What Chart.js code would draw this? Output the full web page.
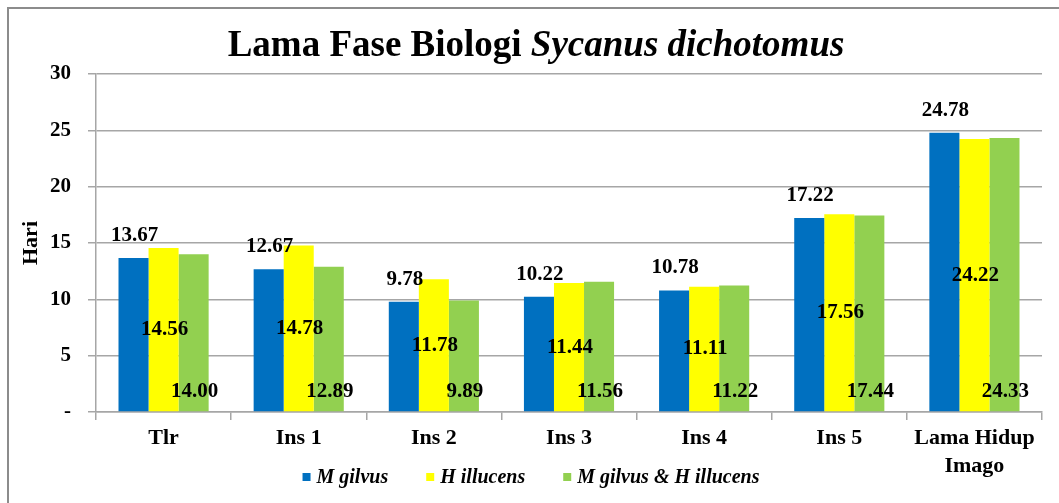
<!DOCTYPE html>
<html>
<head>
<meta charset="utf-8">
<script src="https://cdn.jsdelivr.net/npm/chart.js@4.4.1/dist/chart.umd.min.js"></script>
<style>
  html, body { margin: 0; padding: 0; background: #ffffff; }
  #wrap { width: 1059px; height: 503px; }
</style>
</head>
<body>
<div id="wrap"><canvas id="c" width="1059" height="503"></canvas></div>
<script>
const categories = ['Tlr', 'Ins 1', 'Ins 2', 'Ins 3', 'Ins 4', 'Ins 5', ['Lama Hidup', 'Imago']];
const seriesNames = ['M gilvus', 'H illucens', 'M gilvus & H illucens'];
const mGilvus   = [13.67, 12.67, 9.78, 10.22, 10.78, 17.22, 24.78];
const hIllucens = [14.56, 14.78, 11.78, 11.44, 11.11, 17.56, 24.22];
const combined  = [14.00, 12.89, 9.89, 11.56, 11.22, 17.44, 24.33];
const yTicks = [0, 5, 10, 15, 20, 25, 30];
const titleMain = 'Lama Fase Biologi ';
const titleItalic = 'Sycanus dichotomus';
const yTitle = 'Hari';

const SERIF = "'Liberation Serif', 'Times New Roman', serif";
const colors = ['#0070C0', '#FFFF00', '#92D050'];
const gridColor = '#a6a6a6';

const framePlugin = {
  id: 'frame',
  beforeDraw(chart) {
    const ctx = chart.ctx;
    ctx.save();
    ctx.fillStyle = '#ffffff';
    ctx.fillRect(0, 0, chart.width, chart.height);
    ctx.strokeStyle = '#8c8c8c';
    ctx.lineWidth = 2;
    ctx.strokeRect(8, 8, chart.width + 40, chart.height + 40);
    ctx.restore();
  },
  afterDraw(chart) {
    const ctx = chart.ctx;
    ctx.save();
    ctx.fillStyle = '#000000';
    ctx.textBaseline = 'alphabetic';
    ctx.textAlign = 'left';
    // title
    const f1 = 'bold 37px ' + SERIF;
    const f2 = 'italic bold 37px ' + SERIF;
    ctx.font = f1;
    const w1 = ctx.measureText(titleMain).width;
    ctx.font = f2;
    const w2 = ctx.measureText(titleItalic).width;
    const x0 = 536 - (w1 + w2) / 2;
    ctx.font = f1;
    ctx.fillText(titleMain, x0, 56);
    ctx.font = f2;
    ctx.fillText(titleItalic, x0 + w1, 56);
    // legend
    const lf = 'italic bold 20px ' + SERIF;
    ctx.font = lf;
    const box = 8, gapText = 6, gapItem = 38;
    const items = chart.data.datasets.map(ds => ({ text: ds.label, color: ds.backgroundColor, w: ctx.measureText(ds.label).width }));
    let total = 0;
    items.forEach((it, i) => { total += box + gapText + it.w + (i < items.length - 1 ? gapItem : 0); });
    let x = 531 - total / 2;
    const cy = 477;
    ctx.textBaseline = 'middle';
    items.forEach(it => {
      ctx.fillStyle = it.color;
      ctx.fillRect(x, cy - box / 2, box, box);
      ctx.fillStyle = '#000000';
      ctx.fillText(it.text, x + box + gapText, cy + 1);
      x += box + gapText + it.w + gapItem;
    });
    ctx.restore();
  }
};

const labelPlugin = {
  id: 'barLabels',
  afterDatasetsDraw(chart) {
    const ctx = chart.ctx;
    ctx.save();
    ctx.font = 'bold 21px ' + SERIF;
    ctx.fillStyle = '#000000';
    ctx.textAlign = 'center';
    chart.data.datasets.forEach((ds, i) => {
      const meta = chart.getDatasetMeta(i);
      meta.data.forEach((bar, j) => {
        const txt = ds.data[j].toFixed(2);
        let y;
        if (i === 0) {
          ctx.textBaseline = 'bottom';
          y = bar.y - 12;
        } else if (i === 1) {
          ctx.textBaseline = 'middle';
          y = (bar.y + bar.base) / 2;
        } else {
          ctx.textBaseline = 'middle';
          y = bar.base - 20;
        }
        ctx.fillText(txt, bar.x + 1, y);
      });
    });
    ctx.restore();
  }
};

new Chart(document.getElementById('c'), {
  type: 'bar',
  data: {
    labels: categories,
    datasets: [
      { label: seriesNames[0], data: mGilvus,   backgroundColor: colors[0] },
      { label: seriesNames[1], data: hIllucens, backgroundColor: colors[1] },
      { label: seriesNames[2], data: combined,  backgroundColor: colors[2] }
    ]
  },
  plugins: [framePlugin, labelPlugin],
  options: {
    responsive: false,
    animation: false,
    events: [],
    layout: { padding: { left: 14, right: 17, top: 74, bottom: 21 } },
    datasets: { bar: { categoryPercentage: 0.667, barPercentage: 1.0, borderWidth: 0 } },
    plugins: {
      title: { display: false },
      tooltip: { enabled: false },
      legend: { display: false }
    },
    scales: {
      x: {
        grid: { offset: true, drawOnChartArea: false, drawTicks: true, tickLength: 8, color: gridColor, lineWidth: 1.5 },
        border: { color: gridColor, width: 1.5 },
        ticks: {
          color: '#000000', padding: 5, maxRotation: 0, autoSkip: false,
          font: { family: SERIF, size: 22, weight: 'bold', lineHeight: 1.25 }
        },
        afterFit(s) { s.height = 70; }
      },
      y: {
        min: 0, max: 30,
        afterBuildTicks(s) { s.ticks = yTicks.map(v => ({ value: v })); },
        grid: { color: gridColor, lineWidth: 1.5, tickLength: 8 },
        border: { color: gridColor, width: 1.5 },
        ticks: {
          color: '#000000', padding: 17,
          font: { family: SERIF, size: 21, weight: 'bold' },
          callback: v => (v === 0 ? '-' : String(v))
        },
        title: {
          display: true, text: yTitle, color: '#000000',
          font: { family: SERIF, size: 22, weight: 'bold' }
        },
        afterFit(s) { s.width = 82; }
      }
    }
  }
});
</script>
</body>
</html>
